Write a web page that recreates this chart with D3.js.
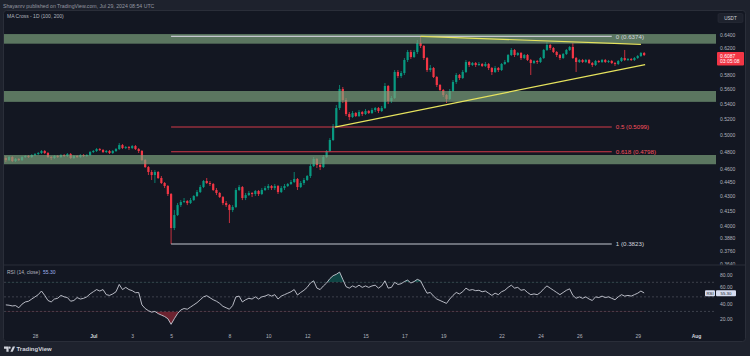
<!DOCTYPE html>
<html><head><meta charset="utf-8">
<script src="https://cdn.jsdelivr.net/npm/d3@7"></script>
<style>
html,body{margin:0;padding:0;background:#1e222d;}
svg{display:block;font-family:"Liberation Sans",Arial,sans-serif;}
</style></head><body>
<svg id="c" width="750" height="356"></svg>
<script>
// ---- data (4h candles, XRP/USDT) ----
const candleStart = Date.UTC(2024,5,26,12);
const candleHours = 4;
const opens = [.4725,.4701,.4736,.4690,.4713,.4701,.4736,.4748,.4736,.4760,.4771,.4783,.4807,.4783,.4736,.4725,.4748,.4736,.4760,.4748,.4771,.4725,.4748,.4736,.4760,.4748,.4760,.4795,.4807,.4830,.4819,.4795,.4807,.4783,.4807,.4830,.4878,.4842,.4854,.4842,.4866,.4830,.4807,.4701,.4621,.4565,.4531,.4565,.4498,.4443,.4410,.4324,.3977,.4106,.4208,.4240,.4250,.4229,.4260,.4303,.4345,.4399,.4465,.4443,.4432,.4367,.4335,.4292,.4229,.4208,.4157,.4188,.4367,.4399,.4282,.4313,.4335,.4324,.4356,.4324,.4367,.4388,.4410,.4388,.4410,.4345,.4388,.4410,.4432,.4454,.4487,.4399,.4443,.4476,.4520,.4632,.4713,.4644,.4621,.4736,.4807,.4939,.5112,.5343,.5599,.5450,.5265,.5226,.5278,.5239,.5291,.5265,.5304,.5278,.5317,.5343,.5304,.5343,.5641,.5436,.5477,.5839,.5781,.5824,.6014,.6133,.6058,.6133,.6271,.6225,.6043,.5867,.5896,.5767,.5655,.5586,.5517,.5463,.5572,.5697,.5796,.5753,.5839,.5984,.5940,.5969,.5940,.5955,.5926,.5955,.5896,.5839,.5896,.5867,.5955,.5984,.6088,.6164,.6088,.6118,.6043,.6088,.6014,.5969,.5999,.5984,.6043,.6164,.6240,.6194,.6133,.6088,.6043,.6103,.6164,.6209,.6043,.5984,.6014,.5984,.6014,.5969,.5940,.5999,.5984,.6014,.5984,.5999,.5969,.5955,.5999,.6043,.6014,.6029,.6014,.6043,.6073,.6118];
const highs = [.4748,.4748,.4748,.4725,.4725,.4748,.4760,.4760,.4771,.4783,.4795,.4819,.4819,.4795,.4748,.4760,.4760,.4771,.4771,.4783,.4783,.4760,.4760,.4771,.4771,.4771,.4807,.4819,.4842,.4842,.4830,.4819,.4819,.4819,.4842,.4902,.4890,.4866,.4866,.4878,.4878,.4842,.4819,.4713,.4632,.4587,.4587,.4576,.4520,.4454,.4421,.4335,.4157,.4229,.4260,.4282,.4260,.4282,.4313,.4367,.4421,.4476,.4498,.4465,.4443,.4388,.4345,.4303,.4250,.4219,.4208,.4388,.4421,.4410,.4335,.4356,.4345,.4367,.4367,.4388,.4410,.4432,.4421,.4432,.4421,.4410,.4432,.4443,.4476,.4565,.4498,.4465,.4498,.4531,.4655,.4736,.4725,.4667,.4760,.4819,.4963,.5137,.5383,.5655,.5627,.5477,.5291,.5304,.5291,.5317,.5304,.5330,.5317,.5343,.5357,.5357,.5370,.5683,.5655,.5504,.5867,.5867,.5853,.6043,.6164,.6164,.6164,.6317,.6374,.6240,.6058,.5940,.5911,.5781,.5669,.5599,.5531,.5599,.5725,.5824,.5810,.5867,.6014,.5999,.5984,.5984,.5984,.5969,.5984,.5969,.5911,.5926,.5911,.5969,.6014,.6103,.6194,.6179,.6133,.6133,.6103,.6103,.6029,.6014,.6014,.6058,.6179,.6286,.6255,.6209,.6148,.6103,.6118,.6179,.6225,.6271,.6058,.6029,.6029,.6029,.6029,.5984,.6014,.6014,.6029,.6029,.6014,.6014,.5984,.6014,.6058,.6164,.6043,.6043,.6058,.6088,.6133,.6133];
const lows = [.4678,.4690,.4678,.4678,.4690,.4690,.4725,.4725,.4725,.4748,.4760,.4771,.4771,.4725,.4701,.4713,.4725,.4725,.4736,.4736,.4713,.4713,.4725,.4725,.4736,.4736,.4748,.4783,.4795,.4807,.4783,.4783,.4771,.4771,.4795,.4819,.4830,.4830,.4819,.4830,.4819,.4783,.4690,.4610,.4531,.4476,.4443,.4487,.4432,.4388,.4303,.3823,.3957,.4096,.4188,.4229,.4208,.4219,.4250,.4292,.4335,.4388,.4432,.4410,.4356,.4313,.4282,.4208,.4188,.4026,.4136,.4177,.4356,.4260,.4260,.4303,.4292,.4303,.4303,.4313,.4356,.4367,.4367,.4367,.4324,.4335,.4367,.4399,.4421,.4443,.4367,.4388,.4421,.4465,.4498,.4621,.4610,.4587,.4610,.4725,.4795,.4927,.5099,.5317,.5410,.5239,.5188,.5214,.5226,.5226,.5239,.5252,.5265,.5265,.5291,.5278,.5291,.5330,.5396,.5410,.5463,.5753,.5753,.5796,.5984,.6029,.6043,.6103,.6194,.6014,.5839,.5839,.5753,.5627,.5572,.5490,.5410,.5450,.5558,.5669,.5725,.5739,.5824,.5911,.5926,.5911,.5926,.5911,.5911,.5867,.5796,.5824,.5839,.5853,.5940,.5969,.6073,.6058,.6073,.6014,.6029,.5999,.5796,.5955,.5955,.5969,.6029,.6148,.6164,.6118,.6058,.6014,.6029,.6088,.6148,.6029,.5839,.5969,.5969,.5969,.5955,.5911,.5926,.5969,.5969,.5969,.5969,.5955,.5926,.5940,.5984,.5999,.5999,.5999,.5999,.6029,.6058,.6073];
const closes = [.4701,.4736,.4690,.4713,.4701,.4736,.4748,.4736,.4760,.4771,.4783,.4807,.4783,.4736,.4725,.4748,.4736,.4760,.4748,.4771,.4725,.4748,.4736,.4760,.4748,.4760,.4795,.4807,.4830,.4819,.4795,.4807,.4783,.4807,.4830,.4878,.4842,.4854,.4842,.4866,.4830,.4807,.4701,.4621,.4565,.4531,.4565,.4498,.4443,.4410,.4324,.3977,.4106,.4208,.4240,.4250,.4229,.4260,.4303,.4345,.4399,.4465,.4443,.4432,.4367,.4335,.4292,.4229,.4208,.4157,.4188,.4367,.4399,.4282,.4313,.4335,.4324,.4356,.4324,.4367,.4388,.4410,.4388,.4410,.4345,.4388,.4410,.4432,.4454,.4487,.4399,.4443,.4476,.4520,.4632,.4713,.4644,.4621,.4736,.4807,.4939,.5112,.5343,.5599,.5450,.5265,.5226,.5278,.5239,.5291,.5265,.5304,.5278,.5317,.5343,.5304,.5343,.5641,.5436,.5477,.5839,.5781,.5824,.6014,.6133,.6058,.6133,.6271,.6225,.6043,.5867,.5896,.5767,.5655,.5586,.5517,.5463,.5572,.5697,.5796,.5753,.5839,.5984,.5940,.5969,.5940,.5955,.5926,.5955,.5896,.5839,.5896,.5867,.5955,.5984,.6088,.6164,.6088,.6118,.6043,.6088,.6014,.5969,.5999,.5984,.6043,.6164,.6240,.6194,.6133,.6088,.6043,.6103,.6164,.6209,.6043,.5984,.6014,.5984,.6014,.5969,.5940,.5999,.5984,.6014,.5984,.5999,.5969,.5955,.5999,.6043,.6014,.6029,.6014,.6043,.6073,.6118,.6087];
const rsiValues = [39,38.5,37.5,38,35,40,43,44,47,50,53,58,52,45,43,47,48,52,50,49,44,45,49,47,48,50,54,57,60,58,60,53,52,54,57,67,60,63,60,58.5,55.7,56,39,34,31,29,30,27,25,23,20,12.3,20,27,32,34,33,36,39,42,46,50,51.6,48.8,46,44,41,37,35,33,38,50,51,43,46,48,47,50,47,50,51,53,51,53,47,51,53,55,57,60,52.5,56,59,63,69,72,62,60,65,69,75,79,81,84,74,64,62,65,63,66,63,65,63,65,66,62,65,72,62,63,70,67,68,71,73,69,71,74,72,63,55,56,51,47,45,43,41,47,52,56,54,57,62,59,60,58.5,59,57,58,55,52,55,53,57,59,63,66,62,63,59,60,56,53,54,53,56,61,65,62,59,56,53,56,59,61,52,48,50,48,50,47,45,50,49,51,49,50,48,46,50,53,51,52,51,53,55,58,55.3];

const priceTicks = [0.64,0.62,0.58,0.56,0.54,0.52,0.50,0.48,0.46,0.445,0.43,0.415,0.40,0.388,0.376,0.364];
const rsiTicks = [80,60,40,20];
const rsiLevels = [70,50,30];
const timeTickDates = ["2024-06-28","2024-07-01","2024-07-03","2024-07-05","2024-07-08","2024-07-10","2024-07-12","2024-07-15","2024-07-17","2024-07-19","2024-07-22","2024-07-24","2024-07-26","2024-07-29","2024-08-01"];
const timeTickLabels = ["28","Jul","3","5","8","10","12","15","17","19","22","24","26","29","Aug"];
const zoneTops = [0.6410,0.5572,0.4760];
const zoneBottoms = [0.6260,0.5425,0.4653];
const fibRatios = ["0","0.5","0.618","1"];
const fibPrices = [0.6374,0.5099,0.4798,0.3823];
const fibStartIdx = 51, fibEndIdx = 187;
const trendStartIdx = [128,101.6], trendStartPrice = [0.6374,0.5099];
const trendEndIdx = [196,197.3], trendEndPrice = [0.6250,0.5946];
const lastPrice = 0.6087, countdown = "03:05:08", lastRsi = 55.30;

// ---- drawing ----
const svg = d3.select("#c");
const W=750,H=356, L=4, R=716;
const tDate = i => new Date(candleStart + i*candleHours*3600e3);
const x = d3.scaleUtc().domain([Date.UTC(2024,5,28),Date.UTC(2024,7,1)]).range([35,696]);
const y = d3.scaleLog().domain([0.64,0.364]).range([34.7,264]);
const yr = d3.scaleLinear().domain([80,20]).range([275,318.7]);
const up="#089981", dn="#f23645";

svg.append("rect").attr("width",W).attr("height",H).attr("fill","#1e222d");
svg.append("rect").attr("x",3.5).attr("y",10.5).attr("width",742).attr("height",331).attr("rx",3)
  .attr("fill","#131722").attr("stroke","#2a2e39");
svg.append("text").attr("x",3).attr("y",7.6).attr("fill","#9598a1").attr("font-size",5.2)
  .text("Shayanrv published on TradingView.com, Jul 29, 2024 08:54 UTC");

const defs = svg.append("defs");
defs.append("clipPath").attr("id","cm").append("rect").attr("x",L).attr("y",11).attr("width",R-L).attr("height",253);
defs.append("clipPath").attr("id","cr").append("rect").attr("x",L).attr("y",266).attr("width",R-L).attr("height",64);
defs.append("clipPath").attr("id","ca").append("rect").attr("x",R).attr("y",11).attr("width",30).attr("height",254);

const main = svg.append("g").attr("clip-path","url(#cm)");
const idx = d3.range(closes.length);
const bw = 2.2;
const cg = main.append("g");
cg.selectAll("line").data(idx).join("line")
  .attr("x1",i=>x(tDate(i))).attr("x2",i=>x(tDate(i)))
  .attr("y1",i=>y(highs[i])).attr("y2",i=>y(lows[i]))
  .attr("stroke",i=>closes[i]>=opens[i]?up:dn).attr("stroke-width",0.8);
cg.selectAll("rect").data(idx).join("rect")
  .attr("x",i=>x(tDate(i))-bw/2).attr("width",bw)
  .attr("y",i=>y(Math.max(opens[i],closes[i])))
  .attr("height",i=>Math.max(0.8,Math.abs(y(opens[i])-y(closes[i]))))
  .attr("fill",i=>closes[i]>=opens[i]?up:dn);

// zones
main.selectAll(".zone").data(zoneTops).join("rect").attr("class","zone")
  .attr("x",L).attr("width",R-L)
  .attr("y",(d)=>y(d)).attr("height",(d,i)=>y(zoneBottoms[i])-y(d))
  .attr("fill","#7ea47d").attr("fill-opacity",0.68);

// fib
const isEdge = r => (r==="0"||r==="1");
fibRatios.forEach((r,k)=>{
  const p = fibPrices[k];
  main.append("line").attr("x1",x(tDate(fibStartIdx))).attr("x2",x(tDate(fibEndIdx)))
    .attr("y1",y(p)).attr("y2",y(p)).attr("stroke",isEdge(r)?"#c4c7cf":"#d43a48").attr("stroke-width",1.1);
  main.append("text").attr("x",x(tDate(fibEndIdx))+4).attr("y",y(p)).attr("dy","0.35em")
    .attr("font-size",6.2).attr("fill",isEdge(r)?"#d1d4dc":"#f7525f")
    .text(`${r} (${p.toFixed(4)})`);
});
// trendlines
trendStartIdx.forEach((s,k)=>{
  main.append("line").attr("x1",x(tDate(s))).attr("y1",y(trendStartPrice[k]))
    .attr("x2",x(tDate(trendEndIdx[k]))).attr("y2",y(trendEndPrice[k]))
    .attr("stroke","#e6e35e").attr("stroke-width",1.2);
});

// legend
svg.append("text").attr("x",7).attr("y",18.4).attr("fill","#b2b5be").attr("font-size",5).text("MA Cross - 1D (100, 200)");

// price axis
const pa = svg.append("g").attr("clip-path","url(#ca)").append("g").attr("transform",`translate(${R+1},0)`)
  .call(d3.axisRight(y).tickValues(priceTicks).tickFormat(d3.format(".4f")).tickSize(0).tickPadding(3));
pa.select(".domain").remove();
pa.selectAll("text").attr("fill","#b2b5be").attr("font-size",5).attr("font-family","Liberation Sans, Arial");
// USDT box
svg.append("rect").attr("x",718).attr("y",13.5).attr("width",25).attr("height",9).attr("rx",1.5).attr("fill","#1e222d").attr("stroke","#2a2e39").attr("stroke-width",0.6);
svg.append("text").attr("x",730.5).attr("y",19.8).attr("text-anchor","middle").attr("fill","#d1d4dc").attr("font-size",4.6).text("USDT");
// last price label
const ly = y(lastPrice);
svg.append("rect").attr("x",717).attr("y",ly-3).attr("width",27).attr("height",13.5).attr("rx",1).attr("fill",dn);
svg.append("text").attr("x",720).attr("y",ly+0.7).attr("dy","0.35em").attr("fill","#ffffff").attr("font-size",5).text(lastPrice.toFixed(4));
svg.append("text").attr("x",720).attr("y",ly+6.4).attr("dy","0.35em").attr("fill","#ffffff").attr("font-size",5).text(countdown);

// RSI pane
svg.append("line").attr("x1",L).attr("x2",745).attr("y1",265).attr("y2",265).attr("stroke","#2a2e39");
const rg = svg.append("g").attr("clip-path","url(#cr)");
rg.selectAll(".lvl").data(rsiLevels).join("line").attr("class","lvl")
  .attr("x1",L).attr("x2",R).attr("y1",d=>yr(d)).attr("y2",d=>yr(d))
  .attr("stroke","#787b86").attr("stroke-opacity",0.6).attr("stroke-width",0.7).attr("stroke-dasharray","2,2");
defs.append("clipPath").attr("id","ob").append("rect").attr("x",L).attr("y",266).attr("width",R-L).attr("height",yr(70)-266);
defs.append("clipPath").attr("id","os").append("rect").attr("x",L).attr("y",yr(30)).attr("width",R-L).attr("height",330-yr(30));
const areaOB = d3.area().x(i=>x(tDate(i))).y0(yr(70)).y1(i=>yr(rsiValues[i]));
const areaOS = d3.area().x(i=>x(tDate(i))).y0(yr(30)).y1(i=>yr(rsiValues[i]));
rg.append("path").attr("clip-path","url(#ob)").attr("d",areaOB(idx)).attr("fill","#089981").attr("fill-opacity",0.35);
rg.append("path").attr("clip-path","url(#os)").attr("d",areaOS(idx)).attr("fill","#f23645").attr("fill-opacity",0.4);
rg.append("path").attr("d",d3.line().x(i=>x(tDate(i))).y(i=>yr(rsiValues[i]))(idx))
  .attr("fill","none").attr("stroke","#c9ccd6").attr("stroke-width",0.9);
svg.append("text").attr("x",7).attr("y",273.8).attr("fill","#b2b5be").attr("font-size",5)
  .text("RSI (14, close)").append("tspan").attr("fill","#9fb3ee").attr("dx",3).text(lastRsi.toFixed(2));
const ra = svg.append("g").attr("transform",`translate(${R+1},0)`)
  .call(d3.axisRight(yr).tickValues(rsiTicks).tickFormat(d3.format(".2f")).tickSize(0).tickPadding(3));
ra.select(".domain").remove();
ra.selectAll("text").attr("fill","#b2b5be").attr("font-size",5).attr("font-family","Liberation Sans, Arial")
  .attr("dy",d=>d===60?"-0.15em":"0.32em");
const rly = yr(lastRsi);
svg.append("rect").attr("x",705).attr("y",rly-2.8).attr("width",10).attr("height",6).attr("rx",1).attr("fill","#d6dcf0");
svg.append("text").attr("x",710).attr("y",rly+0.3).attr("dy","0.35em").attr("text-anchor","middle").attr("fill","#131722").attr("font-size",4.3).text("RSI");
svg.append("rect").attr("x",716).attr("y",rly-2.8).attr("width",20).attr("height",6).attr("rx",1).attr("fill","#d6dcf0");
svg.append("text").attr("x",726).attr("y",rly+0.3).attr("dy","0.35em").attr("text-anchor","middle").attr("fill","#131722").attr("font-size",4.4).text(lastRsi.toFixed(2));

// time axis
const ta = svg.append("g").attr("transform","translate(0,331.5)")
  .call(d3.axisBottom(x).tickValues(timeTickDates.map(d=>new Date(d+"T00:00:00Z"))).tickFormat((d,i)=>timeTickLabels[i]).tickSize(0).tickPadding(2.5));
ta.select(".domain").remove();
ta.selectAll("text").attr("fill",(d,i)=>/^[A-Z]/.test(timeTickLabels[i])?"#d1d4dc":"#b2b5be")
  .attr("font-weight",(d,i)=>/^[A-Z]/.test(timeTickLabels[i])?"bold":"normal")
  .attr("font-size",5).attr("font-family","Liberation Sans, Arial");

// TradingView logo
const lg = svg.append("g").attr("fill","#d1d4dc");
lg.append("path").attr("d","M4,346.5 h4.6 v5.2 h-2.2 v-3 h-2.4z");
lg.append("circle").attr("cx",9.6).attr("cy",347.7).attr("r",1.1);
lg.append("path").attr("d","M10.4,351.7 l2.4,-5.2 h2.3 l-2.4,5.2z");
lg.append("text").attr("x",16.5).attr("y",351.3).attr("font-size",6).attr("font-weight","bold").text("TradingView");
</script>
</body></html>
